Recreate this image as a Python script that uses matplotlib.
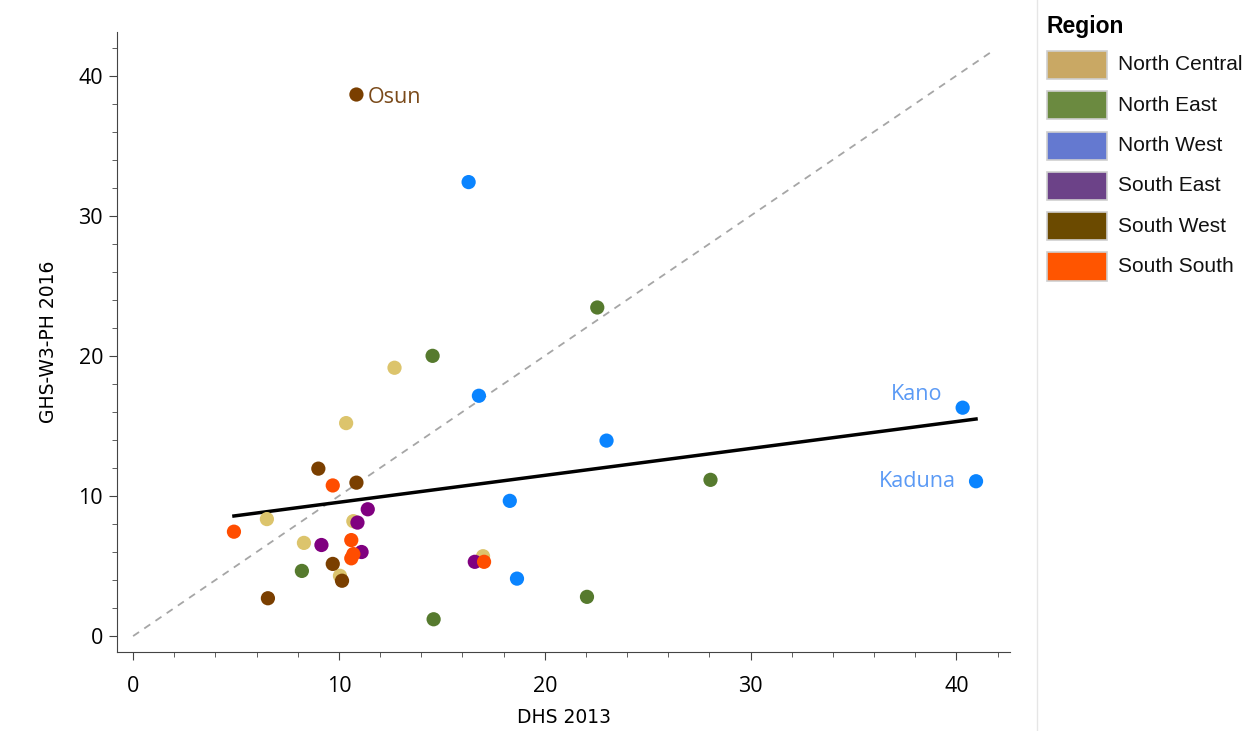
import numpy as np
import matplotlib.pyplot as plt
from matplotlib.patches import Rectangle
from matplotlib.ticker import MultipleLocator

# Region names and colours (legend order)
regions = ["North Central", "North East", "North West", "South East", "South West", "South South"]
point_colors = ["#dcc46c", "#567a2e", "#0a84ff", "#800080", "#7a3f00", "#ff4d00"]
legend_colors = ["#c9a864", "#6b8a40", "#6479d0", "#6c4288", "#6b4a00", "#ff5500"]

# DHS 2013 (x) and GHS-W3-PH 2016 (y) per region
north_central_x = [12.7, 10.35, 10.7, 6.5, 8.3, 10.05, 17.0]
north_central_y = [19.15, 15.2, 8.2, 8.35, 6.65, 4.3, 5.7]
north_east_x = [22.55, 14.55, 28.05, 8.2, 14.6, 22.05]
north_east_y = [23.45, 20.0, 11.15, 4.65, 1.2, 2.8]
north_west_x = [16.3, 16.8, 40.3, 23.0, 40.95, 18.3, 18.65]
north_west_y = [32.4, 17.15, 16.3, 13.95, 11.05, 9.65, 4.1]
south_east_x = [11.4, 10.9, 9.15, 11.1, 16.6]
south_east_y = [9.05, 8.1, 6.5, 6.0, 5.3]
south_west_x = [10.85, 9.0, 10.85, 9.7, 10.15, 6.55]
south_west_y = [38.65, 11.95, 10.95, 5.15, 3.95, 2.7]
south_south_x = [9.7, 4.9, 10.6, 10.7, 10.6, 17.05]
south_south_y = [10.75, 7.45, 6.85, 5.85, 5.55, 5.3]

xs = [north_central_x, north_east_x, north_west_x, south_east_x, south_west_x, south_south_x]
ys = [north_central_y, north_east_y, north_west_y, south_east_y, south_west_y, south_south_y]

# labelled states
label_names = ["Osun", "Kano", "Kaduna"]
label_x = [10.85, 40.3, 40.95]
label_y = [38.65, 16.3, 11.05]
label_colors = ["#7a4a1a", "#5b9af5", "#5b9af5"]

# fitted line (intercept, slope)
fit_intercept = 7.63
fit_slope = 0.192
identity_max = 41.8


def main():
    fig = plt.figure(figsize=(12.57, 7.31), dpi=100)
    ax = fig.add_axes([0.0931, 0.108, 0.7104, 0.848])

    ax.plot([0, identity_max], [0, identity_max], color="#a6a6a6", lw=1.3,
            ls=(0, (4, 3.5)), zorder=1)

    all_x = np.concatenate([np.array(v) for v in xs])
    fx = np.array([all_x.min(), all_x.max()])
    ax.plot(fx, fit_intercept + fit_slope * fx, color="black", lw=2.5, zorder=2)

    for x, y, c in zip(xs, ys, point_colors):
        ax.scatter(x, y, s=105, color=c, edgecolors="none", zorder=3)

    offsets = [(8, -2.5), (-14.5, 9.5), (-14.5, 0)]
    aligns = ["left", "right", "right"]
    for name, x, y, c, off, ha in zip(label_names, label_x, label_y, label_colors, offsets, aligns):
        ax.annotate(name, (x, y), xytext=off, textcoords="offset points", ha=ha,
                    va="center", color=c, fontsize=15.5, family="Open Sans")

    ax.set_xlim(-0.78, 42.6)
    ax.set_ylim(-1.14, 43.1)
    ax.xaxis.set_major_locator(MultipleLocator(10))
    ax.xaxis.set_minor_locator(MultipleLocator(2))
    ax.yaxis.set_major_locator(MultipleLocator(10))
    ax.yaxis.set_minor_locator(MultipleLocator(2))
    for s in ["top", "right"]:
        ax.spines[s].set_visible(False)
    for s in ["left", "bottom"]:
        ax.spines[s].set_color("#444444")
    ax.tick_params(which="major", length=6, color="#444444", labelsize=15.5)
    ax.tick_params(which="minor", length=3.5, color="#444444")
    ax.tick_params(axis="x", which="major", pad=11)
    ax.tick_params(axis="y", which="major", pad=4)
    for lab in ax.get_xticklabels() + ax.get_yticklabels():
        lab.set_family("Open Sans")

    ax.set_xlabel("DHS 2013", fontsize=13.5, family=["Liberation Sans Narrow", "DejaVu Sans"], labelpad=8)
    ax.set_ylabel("GHS-W3-PH 2016", fontsize=13.5, family=["Liberation Sans Narrow", "DejaVu Sans"], labelpad=15)

    # legend panel
    fig.add_artist(plt.Line2D([1037 / 1257, 1037 / 1257], [0, 1], color="#e6e6e6", lw=1))
    fig.text(1047 / 1257, 1 - 26 / 731, "Region", fontsize=16.5, fontweight="bold",
             family="Liberation Sans", va="center", ha="left")
    for i, (name, c) in enumerate(zip(regions, legend_colors)):
        yc = 65 + i * 40.3
        fig.add_artist(Rectangle((1047 / 1257, 1 - (yc + 14) / 731), 60 / 1257, 28 / 731,
                                 transform=fig.transFigure, facecolor=c,
                                 edgecolor="#cfcfcf", lw=1.2))
        fig.text(1118 / 1257, 1 - yc / 731, name, fontsize=15, family="Liberation Sans",
                 va="center", ha="left", color="#111111")

    fig.savefig("out.png", dpi=100)


if __name__ == "__main__":
    main()
